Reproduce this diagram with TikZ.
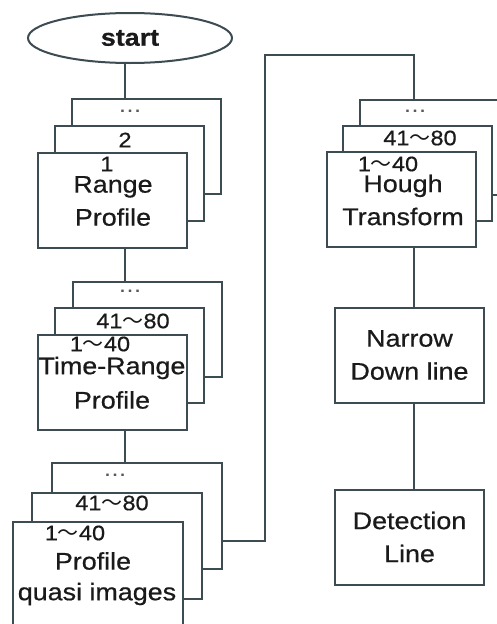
\documentclass[tikz,border=0pt]{standalone}
\usepackage{fontspec}
\setmainfont{Liberation Sans}[FakeStretch=1.12, FakeBold=0.6]
\newfontfamily\cjk{Noto Sans CJK JP}
\usetikzlibrary{shapes.geometric}
\definecolor{edge}{HTML}{3D4B52}
\definecolor{ink}{HTML}{1A1A1A}
\newcommand{\tl}{{\cjk ～}}
\tikzset{
  boxnode/.style={draw=edge, line width=2pt, fill=white, minimum width=149pt, minimum height=95pt, inner sep=0pt},
  widebox/.style={boxnode, minimum width=170pt, minimum height=106pt},
  bigtxt/.style={text=ink, font=\fontsize{24}{33}\selectfont, inner sep=0pt},
  smalltxt/.style={text=ink, font=\fontsize{21}{24}\selectfont, inner sep=0pt},
  dottxt/.style={text=gray!70!black, font=\fontsize{20}{20}\selectfont, inner sep=0pt},
  conn/.style={draw=edge, line width=2pt}
}
\begin{document}
\begin{tikzpicture}[x=1pt, y=-1pt]
\useasboundingbox (0,0) rectangle (497,624);
\clip (0,0) rectangle (497,624);
\fill[white] (0,0) rectangle (497,624);
% start
\node[ellipse, draw=edge, line width=2pt, fill=white, minimum width=204pt, minimum height=50pt, inner sep=0pt, text=ink, font=\bfseries\fontsize{24}{28}\selectfont] (start) at (130,38) {start};
% coordinates
\coordinate (cl) at (125,0);
\coordinate (k1) at (265,55);
\coordinate (k2) at (414,55);
% Range profile stack
\node[boxnode] (rb3) at (146.5,146.5) {};
\node[boxnode] (rb2) at (129.5,173.5) {};
\node[boxnode] (rb1) at (112,200) {};
\node[dottxt] (rt3) at (130,113) {···};
\node[smalltxt] (rt2) at (125,140) {2};
\node[smalltxt] (rt1) at (107,164) {1};
\node[bigtxt, align=center] (rt0) at (113,201) {Range\\Profile};
% Time-Range stack
\node[boxnode] (tb3) at (147.5,329.5) {};
\node[boxnode] (tb2) at (129.5,355.5) {};
\node[boxnode] (tb1) at (112,382) {};
\node[dottxt] (tt3) at (130,293) {···};
\node[smalltxt] (tt2) at (133,321) {41\tl80};
\node[smalltxt] (tt1) at (100,344) {1\tl40};
\node[bigtxt] (tt0a) at (112,368) {Time-Range};
\node[bigtxt] (tt0b) at (112,400) {Profile};
% quasi images stack
\node[widebox] (qb3) at (137,515.5) {};
\node[widebox] (qb2) at (117,546) {};
\node[widebox] (qb1) at (97.5,575) {};
\node[dottxt] (qt3) at (115,477) {···};
\node[smalltxt] (qt2) at (112,503) {41\tl80};
\node[smalltxt] (qt1) at (75,533) {1\tl40};
\node[bigtxt] (qt0a) at (93,561) {Profile};
\node[bigtxt] (qt0b) at (97,594) {quasi images};
% Hough stack
\node[boxnode] (hb3) at (434.5,147) {};
\node[boxnode] (hb2) at (417.5,173.5) {};
\node[boxnode] (hb1) at (401,199.5) {};
\node[dottxt] (ht3) at (415,113) {···};
\node[smalltxt] (ht2) at (420,138) {41\tl80};
\node[smalltxt] (ht1) at (388,164) {1\tl40};
\node[bigtxt, align=center] (ht0) at (403,200) {Hough\\Transform};
% Narrow / detection
\node[boxnode, bigtxt, align=center] (nar) at (409.5,355) {Narrow\\Down line};
\node[boxnode, bigtxt, align=center] (det) at (409.5,537) {Detection\\Line};
% connectors
\draw[conn] ([xshift=-5pt]start.south) -- ([xshift=-5pt]start.south |- rb3.north);
\draw[conn] (rb1.south -| cl) -- (tb3.north -| cl);
\draw[conn] (tb1.south -| cl) -- (qb3.north -| cl);
\draw[conn] ([yshift=-25.5pt]qb3.east) -| (k1) -- (k2) -- (k2 |- hb3.north);
\draw[conn] (hb1.south -| k2) -- (nar.north -| k2);
\draw[conn] (nar.south -| k2) -- (det.north -| k2);
\end{tikzpicture}
\end{document}
